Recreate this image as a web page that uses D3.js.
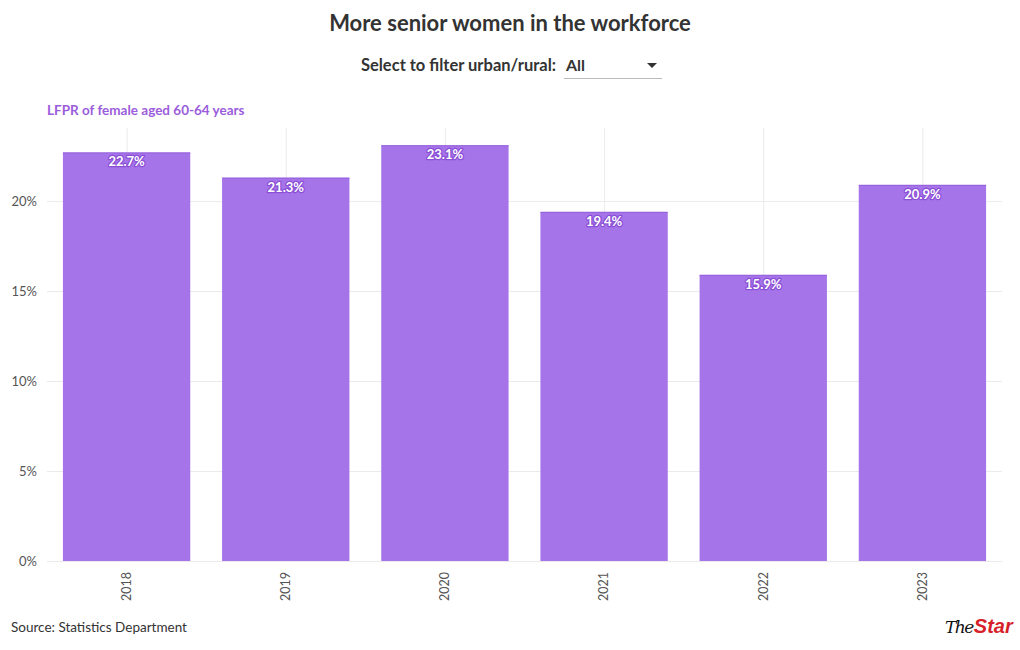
<!DOCTYPE html>
<html><head><meta charset="utf-8">
<script src="https://cdn.jsdelivr.net/npm/d3@7"></script>
<style>
body{margin:0;background:#fff;font-family:Lato,"Open Sans",sans-serif;}
svg{display:block}
</style></head><body>
<svg id="c" width="1020" height="650"></svg>
<script>
const years = ["2018","2019","2020","2021","2022","2023"];
const values = [22.7, 21.3, 23.1, 19.4, 15.9, 20.9];
const yTicks = [0,5,10,15,20];
const title = "More senior women in the workforce";
const subtitle = "LFPR of female aged 60-64 years";
const source = "Source: Statistics Department";

const svg = d3.select("#c");
const F = "Lato, 'Open Sans', sans-serif";
const m = {left:47, right:1002, top:128, bottom:561};
const x = d3.scaleBand().domain(years).range([m.left, m.right]).paddingInner(0.2).paddingOuter(0.1);
const y = d3.scaleLinear().domain([0, 24.06]).range([m.bottom, m.top]);

svg.append("text").attr("x",510).attr("y",31).attr("text-anchor","middle")
  .attr("font-family",F).attr("font-weight",700).attr("font-size",22).attr("fill","#333").text(title);

// dropdown
svg.append("text").attr("x",556).attr("y",71).attr("text-anchor","end")
  .attr("font-family",F).attr("font-weight",700).attr("font-size",16.5).attr("fill","#333").text("Select to filter urban/rural:");
svg.append("text").attr("x",566).attr("y",71)
  .attr("font-family",F).attr("font-weight",700).attr("font-size",16).attr("fill","#333").text("All");
svg.append("line").attr("x1",564).attr("x2",662).attr("y1",78.5).attr("y2",78.5).attr("stroke","#bbb");
svg.append("path").attr("d","M647,63 L657,63 L652,68 Z").attr("fill","#333");

svg.append("text").attr("x",47).attr("y",115)
  .attr("font-family",F).attr("font-weight",700).attr("font-size",13.5).attr("fill","#9b5ddb").text(subtitle);

// grid
const g = svg.append("g");
g.selectAll(".hg").data(yTicks).join("line")
  .attr("x1",m.left).attr("x2",m.right).attr("y1",d=>y(d)+0.5).attr("y2",d=>y(d)+0.5)
  .attr("stroke","#ebebeb");
g.selectAll(".vg").data(years).join("line")
  .attr("x1",d=>x(d)+x.bandwidth()/2+0.5).attr("x2",d=>x(d)+x.bandwidth()/2+0.5)
  .attr("y1",m.top).attr("y2",m.bottom).attr("stroke","#ebebeb");

// y axis labels
const yAxis = d3.axisLeft(y).tickValues(yTicks).tickSize(0).tickPadding(10).tickFormat(d=>d+"%");
const ya = svg.append("g").attr("transform",`translate(${m.left},0)`).call(yAxis);
ya.select(".domain").remove();
ya.selectAll("text").attr("font-family",F).attr("font-size",13).attr("fill","#555");

// bars
svg.selectAll(".bar").data(years).join("rect")
  .attr("x",d=>x(d)).attr("width",x.bandwidth())
  .attr("y",(d,i)=>y(values[i])).attr("height",(d,i)=>y(0)-y(values[i]))
  .attr("fill","#a674e9");
svg.selectAll(".bartop").data(years).join("line")
  .attr("x1",d=>x(d)).attr("x2",d=>x(d)+x.bandwidth())
  .attr("y1",(d,i)=>y(values[i])+0.5).attr("y2",(d,i)=>y(values[i])+0.5)
  .attr("stroke","#9560dc").attr("stroke-width",1);

// x axis labels
const xAxis = d3.axisBottom(x).tickSize(0).tickPadding(0);
const xa = svg.append("g").attr("transform",`translate(0,${m.bottom})`).call(xAxis);
xa.select(".domain").attr("stroke","#ebebeb");
xa.selectAll("text").attr("font-family",F).attr("font-size",12.5).attr("fill","#555")
  .attr("transform","rotate(-90)").attr("text-anchor","end").attr("x",-11).attr("y",0).attr("dy","0.35em");

// value labels
svg.selectAll(".lbl").data(years).join("text")
  .attr("x",d=>x(d)+x.bandwidth()/2).attr("y",(d,i)=>y(values[i])+14)
  .attr("text-anchor","middle").attr("font-family",F).attr("font-weight",700).attr("font-size",13)
  .attr("fill","#fff").attr("stroke","#8a4fd6").attr("stroke-width",2.5).attr("paint-order","stroke")
  .attr("stroke-linejoin","round")
  .text((d,i)=>values[i].toFixed(1)+"%");

svg.append("text").attr("x",11).attr("y",632).attr("font-family",F).attr("font-size",13.5).attr("fill","#333").text(source);

// logo
const logo = svg.append("text").attr("x",945).attr("y",633).attr("font-style","italic").attr("font-weight",700).attr("font-size",20);
logo.append("tspan").attr("font-family","'DejaVu Serif', serif").attr("font-weight",400).attr("fill","#111").attr("font-size",17).attr("letter-spacing",-1.5).text("The");
logo.append("tspan").attr("font-family","'Liberation Sans', sans-serif").attr("fill","#d71f2b").attr("dx",1).text("Star");
</script>
</body></html>
